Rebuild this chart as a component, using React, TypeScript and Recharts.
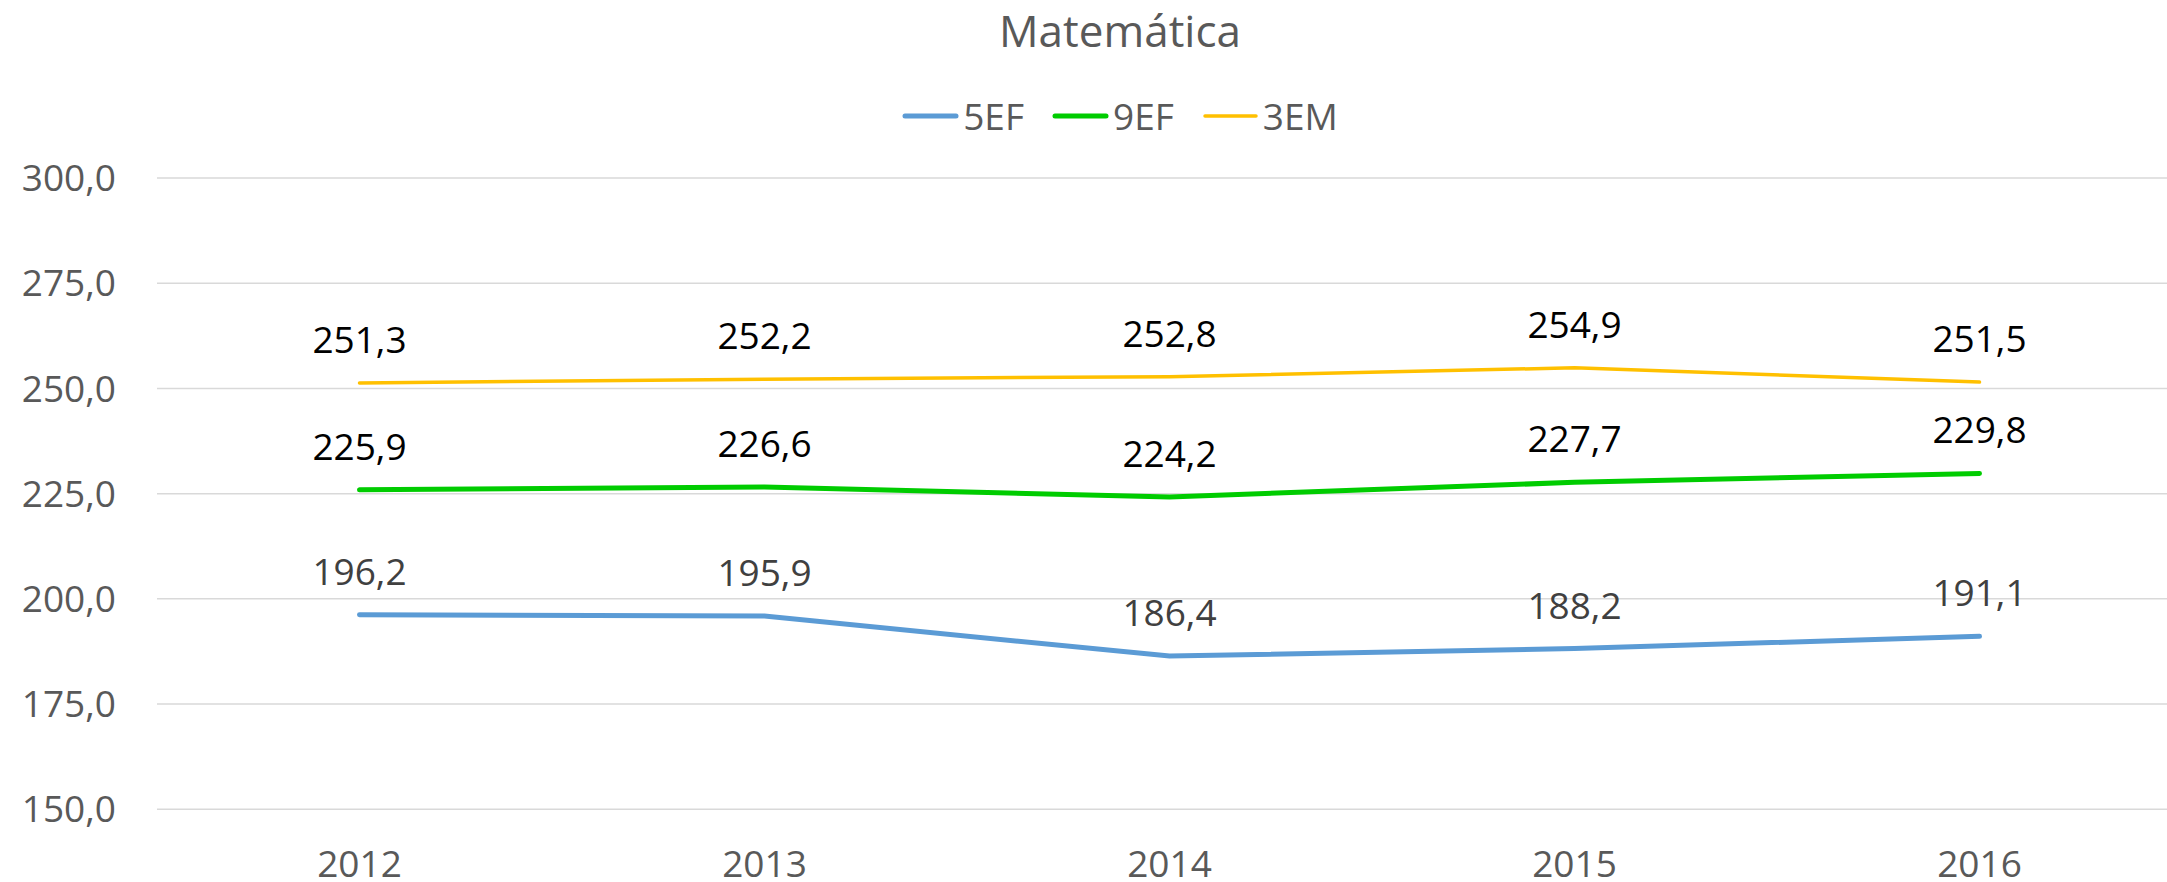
import { LineChart, Line, XAxis, YAxis, CartesianGrid, Legend, LabelList } from "recharts";

const FONT = "'Open Sans', sans-serif";

const years = ["2012", "2013", "2014", "2015", "2016"];
const ef5 = [196.2, 195.9, 186.4, 188.2, 191.1];
const ef9 = [225.9, 226.6, 224.2, 227.7, 229.8];
const em3 = [251.3, 252.2, 252.8, 254.9, 251.5];
const yTicks = [150, 175, 200, 225, 250, 275, 300];

const series = [
  { key: "ef5", name: "5EF", color: "#5B9BD5", width: 5, labelColor: "#404040" },
  { key: "ef9", name: "9EF", color: "#00CC00", width: 5, labelColor: "#000000" },
  { key: "em3", name: "3EM", color: "#FFC000", width: 3.5, labelColor: "#000000" },
];

const data = years.map((year, i) => ({ year, ef5: ef5[i], ef9: ef9[i], em3: em3[i] }));

const fmt = (v: number) => v.toFixed(1).replace(".", ",");

function renderLegend() {
  return (
    <div style={{ display: "flex", justifyContent: "center", alignItems: "center", fontFamily: FONT, fontSize: 37, color: "#595959", lineHeight: "normal" }}>
      {series.map((s, i) => (
        <div key={s.key} style={{ display: "flex", alignItems: "center", marginLeft: i ? 28 : 0 }}>
          <svg width={57} height={10}>
            <line x1={3} x2={54} y1={5} y2={5} stroke={s.color} strokeWidth={s.width} strokeLinecap="round" />
          </svg>
          <span style={{ marginLeft: 4 }}>{s.name}</span>
        </div>
      ))}
    </div>
  );
}

export default function App() {
  return (
    <div style={{ position: "absolute", left: 0, top: 0, width: 2167, height: 882, overflow: "hidden", background: "#fff" }}>
      <div style={{ position: "absolute", left: 0, top: 0, width: 2240, textAlign: "center", fontFamily: FONT, fontSize: 44, color: "#595959", lineHeight: "normal" }}>
        Matemática
      </div>
      <LineChart width={2240} height={882} data={data} margin={{ top: 178, right: 58, bottom: 0, left: 0 }}>
        <CartesianGrid vertical={false} stroke="#d9d9d9" strokeWidth={1.5} />
        <XAxis
          dataKey="year"
          scale="band"
          axisLine={false}
          tickLine={false}
          tickSize={0}
          tickMargin={41}
          height={72.7}
          tick={{ fontSize: 37, fill: "#595959", fontFamily: FONT }}
        />
        <YAxis
          domain={[150, 300]}
          ticks={yTicks}
          width={157}
          axisLine={false}
          tickLine={false}
          tickSize={0}
          tickMargin={41}
          tickFormatter={fmt}
          tick={{ fontSize: 37, fill: "#595959", fontFamily: FONT }}
        />
        <Legend layout="horizontal" verticalAlign="middle" align="center" content={renderLegend} wrapperStyle={{ top: 90, left: 0, width: 2240 }} />
        {series.map((s) => (
          <Line
            key={s.key}
            dataKey={s.key}
            name={s.name}
            type="linear"
            stroke={s.color}
            strokeWidth={s.width}
            strokeLinecap="round"
            dot={false}
            activeDot={false}
            isAnimationActive={false}
          >
            <LabelList
              dataKey={s.key}
              position="top"
              offset={30}
              formatter={(v: any) => fmt(Number(v))}
              fill={s.labelColor}
              fontSize={37}
              fontFamily={FONT}
            />
          </Line>
        ))}
      </LineChart>
    </div>
  );
}
